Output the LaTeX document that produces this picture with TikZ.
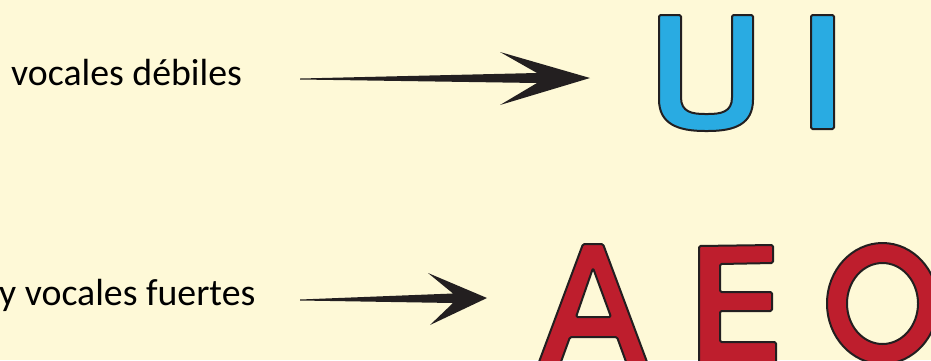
\documentclass[tikz,border=0pt]{standalone}
\usepackage{fontspec}
\setmainfont{Carlito}
\definecolor{bg}{HTML}{FEF9D7}
\definecolor{ink}{HTML}{231F20}
\definecolor{weakblue}{HTML}{29ABE2}
\definecolor{strongred}{HTML}{BE1E2D}
\tikzset{
  label text/.style={anchor=base west, inner sep=0pt, font=\fontsize{37.8}{40}\selectfont, text=black},
  arrowshape/.style={fill=ink, draw=none},
  weak letter/.style={fill=weakblue, draw=ink, line width=2pt, line join=round, rounded corners=1.5pt},
  strong letter/.style={fill=strongred, draw=ink, line width=2pt, line join=round, rounded corners=1.5pt, even odd rule}
}
\begin{document}
\begin{tikzpicture}[x=1pt,y=-1pt]
\fill[bg] (0,0) rectangle (931,360);
\useasboundingbox (0,0) rectangle (931,360);
\clip (0,0) rectangle (931,360);
% labels
\node[label text] (weak) at (11,85) {vocales débiles};
\node[label text] (strong) at (-1,305) {y vocales fuertes};
% arrows
\fill[arrowshape] (300,78.5) -- (537,73) -- (500,52) -- (590,78) -- (500,105) -- (537,83) -- (300,79.5) -- cycle;
\fill[arrowshape] (300,299.5) -- (453,293.5) -- (428,273) -- (487,298) -- (430,325) -- (453,303) -- (300,300.5) -- cycle;
% U
\draw[weak letter] (659,15) -- (681,15) -- (681,96) .. controls (681,112) and (692,114) .. (706.5,114) .. controls (721,114) and (732,112) .. (732,96) -- (732,15) -- (753,15) -- (753,98) .. controls (753,124) and (735,131) .. (706.5,131) .. controls (678,131) and (659,124) .. (659,98) -- cycle;
% I
\draw[weak letter] (811,15) -- (834,15) -- (834,129) -- (811,129) -- cycle;
% A
\draw[strong letter] (536,370) -- (583,244) -- (603,244) -- (650,370) -- (629,370) -- (617,337) -- (570,337) -- (558,370) -- cycle
  (593,268) -- (576,317) -- (611,317) -- cycle;
% E
\draw[strong letter] (699,246) -- (773,245) -- (773,263) -- (720,264) -- (720,292) -- (772,292) -- (772,311) -- (720,311) -- (720,342) -- (776,342) -- (776,370) -- (699,370) -- cycle;
% O
\draw[strong letter] (882.5,303.5) ellipse [x radius=55.5, y radius=60.5]
  (882.5,303.5) ellipse [x radius=35.5, y radius=40.5];
\end{tikzpicture}
\end{document}
